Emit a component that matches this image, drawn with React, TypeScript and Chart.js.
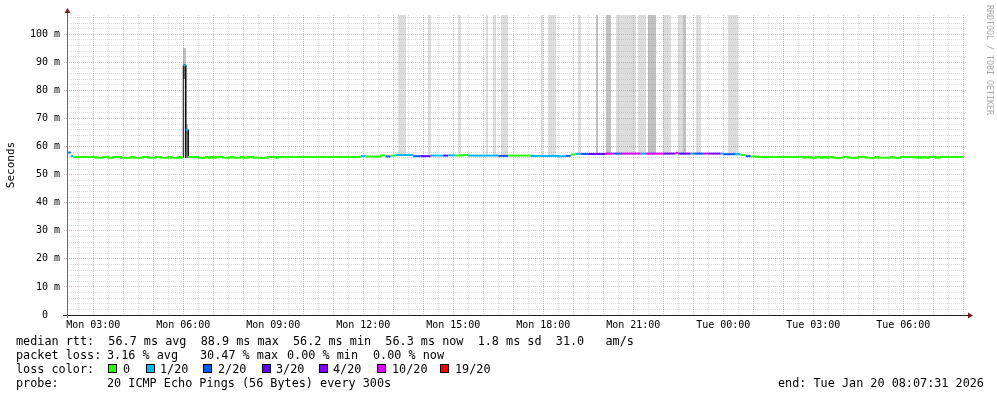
import React, { useEffect, useRef } from 'react';
import { Chart, registerables } from 'chart.js';

Chart.register(...registerables);

// ---- time axis (minutes since Mon 00:00) ----
const axisStart = 127.52; // Mon 02:07:31
const axisEnd = 1927.52; // Tue 08:07:31
const yMax = 106.9; // ms

const xTickMinutes = [180, 360, 540, 720, 900, 1080, 1260, 1440, 1620, 1800];
const xTickLabels = ['Mon 03:00', 'Mon 06:00', 'Mon 09:00', 'Mon 12:00', 'Mon 15:00', 'Mon 18:00', 'Mon 21:00', 'Tue 00:00', 'Tue 03:00', 'Tue 06:00'];
const yTickValues = [0, 10, 20, 30, 40, 50, 60, 70, 80, 90, 100];
const yTickLabels = ['0', '10 m', '20 m', '30 m', '40 m', '50 m', '60 m', '70 m', '80 m', '90 m', '100 m'];

// ---- loss classes ----
const lossLabels = ['0', '1/20', '2/20', '3/20', '4/20', '10/20', '19/20'];
const lossColors = ['#26ff00', '#00b8ff', '#0059ff', '#5e00ff', '#7e00ff', '#dd00ff', '#ff0000'];

// ---- median rtt runs: start minute, value (ms), loss class ----
const medianStart = [
  130, 135, 140, 185, 200, 210, 220, 235, 255, 260, 280, 290, 305, 315, 330, 335, 350, 355,
  360, 365, 370, 390, 405, 410, 415, 420, 425, 440, 455, 460, 475, 480, 490, 500, 530, 545, 550,
  715, 725, 755, 765, 775, 785, 820, 835, 855, 880, 890, 905, 920, 930, 990, 1010, 1055, 1110, 1125,
  1135, 1145, 1155, 1170, 1205, 1220, 1235, 1275, 1285, 1320, 1345, 1350, 1375, 1380, 1400, 1410,
  1435, 1440, 1465, 1475, 1485, 1495, 1505,
  1600, 1605, 1615, 1625, 1635, 1640, 1645, 1650, 1660, 1680, 1690, 1710, 1725, 1745, 1750, 1775,
  1780, 1795, 1825, 1830, 1835, 1840, 1845, 1850, 1865, 1870,
];
const medianMs = [
  57.9, 56.6, 56.3, 56.05, 56.3, 56.05, 56.3, 56.05, 56.3, 56.05, 56.3, 56.05, 56.3, 56.05, 56.3, 56.05, 56.3, 56.05,
  89.0, 66.0, 56.3, 56.05, 56.3, 56.05, 56.3, 56.05, 56.3, 56.05, 56.3, 56.05, 56.3, 56.05, 56.3, 56.05, 56.3, 56.05, 56.3,
  56.6, 56.5, 56.8, 56.5, 56.8, 57.0, 56.6, 56.6, 56.8, 56.8, 56.9, 56.8, 57.0, 56.8, 56.7, 56.8, 56.7, 56.6, 56.7,
  57.2, 57.4, 57.4, 57.4, 57.5, 57.5, 57.5, 57.5, 57.5, 57.5, 57.8, 57.5, 57.5, 57.5, 57.5, 57.5,
  57.5, 57.3, 57.3, 57.0, 56.6, 56.5, 56.3,
  56.05, 56.3, 56.05, 56.3, 56.05, 56.3, 56.05, 56.3, 56.05, 56.3, 56.05, 56.3, 56.05, 56.3, 56.05, 56.3,
  56.05, 56.3, 56.05, 56.3, 56.05, 56.3, 56.05, 56.3, 56.05, 56.3,
];
const medianLoss = [
  2, 1, 0, 0, 0, 0, 0, 0, 0, 0, 0, 0, 0, 0, 0, 0, 0, 0,
  1, 1, 0, 0, 0, 0, 0, 0, 0, 0, 0, 0, 0, 0, 0, 0, 0, 0, 0,
  1, 0, 0, 2, 0, 1, 2, 3, 1, 3, 1, 0, 0, 1, 2, 0, 1, 1, 2,
  0, 1, 2, 3, 5, 2, 5, 1, 5, 4, 5, 3, 1, 2, 5, 4,
  1, 2, 1, 0, 2, 0, 0,
  0, 0, 0, 0, 0, 0, 0, 0, 0, 0, 0, 0, 0, 0, 0, 0,
  0, 0, 0, 0, 0, 0, 0, 0, 0, 0,
];
const medianEnd = 1920;

// ---- smoke (ping spread) regions: start, end, low ms, high ms, density ----
const smokeStart = [360, 360, 360, 365, 365, 790, 850, 910, 965, 980, 995, 1075, 1090, 1150, 1185, 1205, 1225, 1270, 1290, 1320, 1350, 1360, 1385, 1450];
const smokeEnd = [365, 365, 365, 370, 370, 805, 855, 915, 970, 985, 1010, 1080, 1105, 1155, 1190, 1215, 1265, 1285, 1305, 1335, 1360, 1365, 1395, 1470];
const smokeLow = [56.3, 84, 89.5, 56.3, 64, 57, 57, 57, 57, 57, 57, 57, 57, 57, 57, 57, 57, 57, 57, 57, 57, 57, 57, 57];
const smokeHigh = [84, 89.5, 95, 64, 68, 107, 107, 107, 107, 107, 107, 107, 107, 107, 107, 107, 107, 107, 107, 107, 107, 107, 107, 107];
const smokeDensity = [0, 2, 1, 0, 1, 0, 0, 0, 0, 0, 0, 0, 0, 0, 1, 1, 0, 0, 1, 0, 0, 1, 0, 0];

const smokeShades = ['#dddddd', '#c2c2c2', '#6e6e6e'];
const MONO = 'DejaVu Sans Mono';

export default function App() {
  const ref = useRef<HTMLCanvasElement>(null);

  useEffect(() => {
    const canvas = ref.current;
    if (!canvas) return;

    // median line points (horizontal per run, broken where loss class changes or on big jumps)
    const medianPts: { x: number; y: number | null }[] = [];
    const ptLoss: number[] = [];
    const n = medianStart.length;
    for (let i = 0; i < n; i++) {
      const s = medianStart[i];
      const e = i + 1 < n ? medianStart[i + 1] : medianEnd;
      if (i > 0 && (medianLoss[i] !== medianLoss[i - 1] || Math.abs(medianMs[i] - medianMs[i - 1]) > 5)) {
        medianPts.push({ x: s, y: null });
        ptLoss.push(medianLoss[i]);
      }
      medianPts.push({ x: s, y: medianMs[i] });
      ptLoss.push(medianLoss[i]);
      medianPts.push({ x: e, y: medianMs[i] });
      ptLoss.push(medianLoss[i]);
    }
    // dark edges of large jumps
    const base = Math.min(...medianMs);
    const edgePts: { x: number; y: number | null }[] = [];
    for (let i = 0; i < n; i++) {
      const v = medianMs[i];
      if (i > 0 && v - medianMs[i - 1] > 5) {
        edgePts.push({ x: medianStart[i], y: medianMs[i - 1] }, { x: medianStart[i], y: v }, { x: medianStart[i], y: null });
      }
      if (i + 1 < n && v - medianMs[i + 1] > 5) {
        const e = medianStart[i + 1];
        edgePts.push({ x: e, y: v }, { x: e, y: base }, { x: e, y: null });
      }
    }

    const xGrid: number[] = [];
    for (let v = 150; v <= 1920; v += 30) xGrid.push(v);
    const yGrid: number[] = [];
    for (let v = 0; v <= 106; v += 2) yGrid.push(v);

    const MAJOR = 'rgba(222,79,79,0.42)';
    const MINOR = 'rgba(143,143,143,0.32)';

    const smokePlugin = {
      id: 'smoke',
      beforeDraw(chart: any) {
        const { ctx, chartArea } = chart;
        const xs = chart.scales.x;
        const ys = chart.scales.y;
        ctx.save();
        ctx.beginPath();
        ctx.rect(chartArea.left, chartArea.top, chartArea.right - chartArea.left, chartArea.bottom - chartArea.top);
        ctx.clip();
        for (let i = 0; i < smokeStart.length; i++) {
          const x0 = Math.round(xs.getPixelForValue(smokeStart[i]));
          const x1 = Math.round(xs.getPixelForValue(smokeEnd[i]));
          const y0 = Math.round(ys.getPixelForValue(smokeHigh[i]));
          const y1 = Math.round(ys.getPixelForValue(smokeLow[i]));
          ctx.fillStyle = smokeShades[smokeDensity[i]];
          ctx.fillRect(x0, y0, Math.max(1, x1 - x0), y1 - y0);
        }
        ctx.restore();
      },
    };

    const axesPlugin = {
      id: 'rrdAxes',
      afterDraw(chart: any) {
        const { ctx, chartArea } = chart;
        const { left, right, top, bottom } = chartArea;
        ctx.save();
        ctx.strokeStyle = '#1f1f1f';
        ctx.lineWidth = 1;
        ctx.beginPath();
        ctx.moveTo(left - 4, bottom + 0.5);
        ctx.lineTo(right + 2, bottom + 0.5);
        ctx.stroke();
        ctx.strokeStyle = '#6a6a6a';
        ctx.beginPath();
        ctx.moveTo(left + 0.5, bottom + 3);
        ctx.lineTo(left + 0.5, top - 2);
        ctx.stroke();
        ctx.fillStyle = '#7f1f1f';
        ctx.beginPath();
        ctx.moveTo(right + 1, bottom + 0.5 - 3);
        ctx.lineTo(right + 6, bottom + 0.5);
        ctx.lineTo(right + 1, bottom + 0.5 + 3);
        ctx.closePath();
        ctx.fill();
        ctx.beginPath();
        ctx.moveTo(left + 0.5 - 3, top - 2);
        ctx.lineTo(left + 0.5, top - 7);
        ctx.lineTo(left + 0.5 + 3, top - 2);
        ctx.closePath();
        ctx.fill();
        ctx.restore();
      },
    };

    const chart = new Chart(canvas, {
      type: 'line',
      data: {
        datasets: [
          {
            label: 'median rtt',
            data: medianPts as any,
            borderWidth: 2,
            pointRadius: 0,
            spanGaps: false,
            tension: 0,
            borderColor: lossColors[0],
            segment: {
              borderColor: (c: any) => lossColors[ptLoss[c.p0DataIndex]],
            },
          },
          {
            label: 'edges',
            data: edgePts as any,
            borderWidth: 1,
            pointRadius: 0,
            spanGaps: false,
            borderColor: '#111111',
          },
        ],
      },
      options: {
        animation: false,
        responsive: false,
        devicePixelRatio: 1,
        layout: { padding: { left: 0, right: 30, top: 15, bottom: 0 } },
        plugins: { legend: { display: false }, tooltip: { enabled: false }, title: { display: false } },
        scales: {
          x: {
            type: 'linear',
            min: axisStart,
            max: axisEnd,
            afterBuildTicks: (s: any) => {
              s.ticks = xGrid.map((v) => ({ value: v }));
            },
            afterFit: (s: any) => {
              s.height = 82;
            },
            ticks: {
              autoSkip: false,
              maxRotation: 0,
              minRotation: 0,
              padding: 4,
              color: '#000',
              font: { family: MONO, size: 10 },
              callback: (v: any) => {
                const k = xTickMinutes.indexOf(Number(v));
                return k >= 0 ? xTickLabels[k] : '';
              },
            },
            grid: {
              drawTicks: false,
              lineWidth: 1,
              color: (c: any) => (c.tick && c.tick.value % 60 === 0 ? MAJOR : MINOR),
            },
            border: { display: false, dash: [1, 1] },
          },
          y: {
            type: 'linear',
            min: 0,
            max: yMax,
            afterBuildTicks: (s: any) => {
              s.ticks = yGrid.map((v) => ({ value: v }));
            },
            afterFit: (s: any) => {
              s.width = 67;
            },
            ticks: {
              autoSkip: false,
              padding: 4,
              color: '#000',
              font: { family: MONO, size: 10 },
              callback: (v: any) => {
                const k = yTickValues.indexOf(Number(v));
                if (k < 0) return '';
                const t = yTickLabels[k];
                return t.indexOf(' ') < 0 ? t + '  ' : t;
              },
            },
            grid: {
              drawTicks: true,
              tickLength: 3,
              lineWidth: 1,
              color: (c: any) => (c.tick && c.tick.value % 10 === 0 ? MAJOR : MINOR),
              tickColor: (c: any) => (c.tick && c.tick.value % 10 === 0 ? MAJOR : 'rgba(0,0,0,0)'),
              tickBorderDash: [1, 1],
            },
            border: { display: false, dash: [1, 1] },
            title: {
              display: true,
              text: 'Seconds',
              color: '#000',
              font: { family: MONO, size: 11 },
              padding: { top: 5, bottom: 0 },
            },
          },
        },
      },
      plugins: [smokePlugin, axesPlugin],
    } as any);

    return () => chart.destroy();
  }, []);

  const txt = (x: number, cy: number, s: string, key: string) => (
    <span
      key={key}
      style={{ position: 'absolute', left: x, top: cy - 7, lineHeight: '14px', whiteSpace: 'pre', fontFamily: MONO, fontSize: '11.8px', color: '#000' }}
    >
      {s}
    </span>
  );

  const boxX = [108, 146, 203, 262, 319, 377, 440];
  const boxLabelX = [123, 160, 218, 276, 333, 392, 455];

  return (
    <div style={{ position: 'absolute', left: 0, top: 0, width: 997, height: 397, background: '#fff', overflow: 'hidden' }}>
      <canvas ref={ref} width={997} height={397} style={{ position: 'absolute', left: 0, top: 0, width: 997, height: 397 }} />
      {txt(16, 341, 'median rtt:  56.7 ms avg  88.9 ms max  56.2 ms min  56.3 ms now  1.8 ms sd  31.0   am/s', 'r1')}
      {txt(16, 355, 'packet loss:', 'r2a')}
      {txt(107, 355, '3.16 % avg', 'r2b')}
      {txt(200, 355, '30.47 % max', 'r2c')}
      {txt(287, 355, '0.00 % min', 'r2d')}
      {txt(373, 355, '0.00 % now', 'r2e')}
      {txt(16, 369, 'loss color:', 'r3')}
      {lossLabels.map((l, i) => (
        <React.Fragment key={'lc' + i}>
          <div
            style={{ position: 'absolute', left: boxX[i], top: 364, width: 9, height: 9, boxSizing: 'border-box', border: '1px solid #000', background: lossColors[i] }}
          />
          {txt(boxLabelX[i], 369, l, 'lt' + i)}
        </React.Fragment>
      ))}
      {txt(16, 383, 'probe:', 'r4a')}
      {txt(107, 383, '20 ICMP Echo Pings (56 Bytes) every 300s', 'r4b')}
      {txt(778, 383, 'end: Tue Jan 20 08:07:31 2026', 'r4c')}
      <div
        style={{ position: 'absolute', left: 985, top: 5, writingMode: 'vertical-rl', fontFamily: MONO, fontSize: '8.3px', lineHeight: '10px', color: '#a8a8a8', whiteSpace: 'pre' }}
      >
        RRDTOOL / TOBI OETIKER
      </div>
    </div>
  );
}
